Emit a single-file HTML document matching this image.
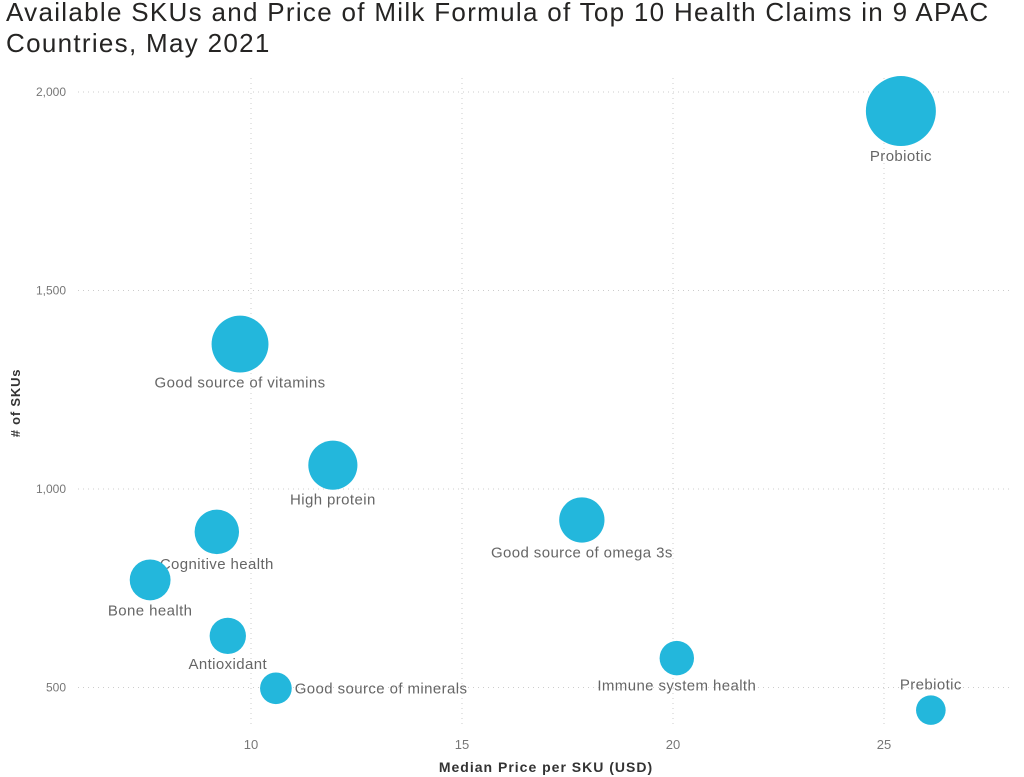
<!DOCTYPE html>
<html><head><meta charset="utf-8"><style>
body{margin:0;background:#fff;width:1024px;height:777px;overflow:hidden;font-family:"Liberation Sans",sans-serif}
#title{position:absolute;left:6px;top:-3px;font-size:26px;line-height:31px;color:#252423;letter-spacing:1.3px}
</style></head><body>
<div id="title">Available SKUs and Price of Milk Formula of Top 10 Health Claims in 9 APAC<br>Countries, May 2021</div>
<svg id="chart" width="1024" height="777" style="position:absolute;left:0;top:0"></svg>
<script>
const claims=["Probiotic","Good source of vitamins","High protein","Good source of omega 3s","Cognitive health","Bone health","Antioxidant","Good source of minerals","Immune system health","Prebiotic"];
const prices=[25.4,9.74,11.94,17.84,9.19,7.61,9.45,10.59,20.09,26.11];
const skus=[1952,1365,1060,922,892,771,630,498,574,443];
const labelSide=["below","below","below","below","below","below","below","right","below","above"];
const xTicks=[10,15,20,25];
const yTicks=[500,1000,1500,2000];
const NS="http://www.w3.org/2000/svg";
const svg=document.getElementById('chart');
const X=v=>251+(v-10)*42.2;
const Y=v=>92+(2000-v)*0.397;
const R=v=>35*Math.pow(v/1952,0.58);
function mk(t,a){const e=document.createElementNS(NS,t);for(const k in a)e.setAttribute(k,a[k]);svg.appendChild(e);return e;}
yTicks.forEach(t=>{
 const l=mk('line',{x1:78,x2:1012,y1:Y(t),y2:Y(t),stroke:'#ccc','stroke-dasharray':'1,4'});
 
 
 const tx=mk('text',{x:66,y:Y(t)+4,'text-anchor':'end','font-size':12,fill:'#777'});
 tx.textContent=t.toLocaleString('en-US');
 
 
});
xTicks.forEach(t=>{
 const l=mk('line',{x1:X(t),x2:X(t),y1:78,y2:728,stroke:'#ccc','stroke-dasharray':'1,4'});
 
 
 const tx=mk('text',{x:X(t),y:749,'text-anchor':'middle','font-size':13,fill:'#777'});
 tx.textContent=t;
 
 
});
const xt=mk('text',{x:546,y:772,'text-anchor':'middle','font-size':14,'font-weight':'bold',fill:'#333','letter-spacing':'1'});
xt.textContent='Median Price per SKU (USD)';


const yt=mk('text',{x:20,y:403,'text-anchor':'middle','font-size':13,'font-weight':'bold',fill:'#333','letter-spacing':'0.8',transform:'rotate(-90 20 403)'});
yt.textContent='# of SKUs';


claims.forEach((c,i)=>{
 const cx=X(prices[i]),cy=Y(skus[i]),r=R(skus[i]);
 const b=mk('circle',{cx:cx,cy:cy,r:r,fill:'#23b7dc'});
 
 
 let a={'font-size':15,fill:'#666','letter-spacing':'0.4'};
 if(labelSide[i]==='right'){a.x=cx+r+3;a.y=cy+5;a['text-anchor']='start';}
 else if(labelSide[i]==='above'){a.x=cx;a.y=cy-r-6;a['text-anchor']='middle';}
 else {a.x=cx;a.y=cy+r+15;a['text-anchor']='middle';}
 const t=mk('text',a);t.textContent=c;
 
 
});
</script>
</body></html>
